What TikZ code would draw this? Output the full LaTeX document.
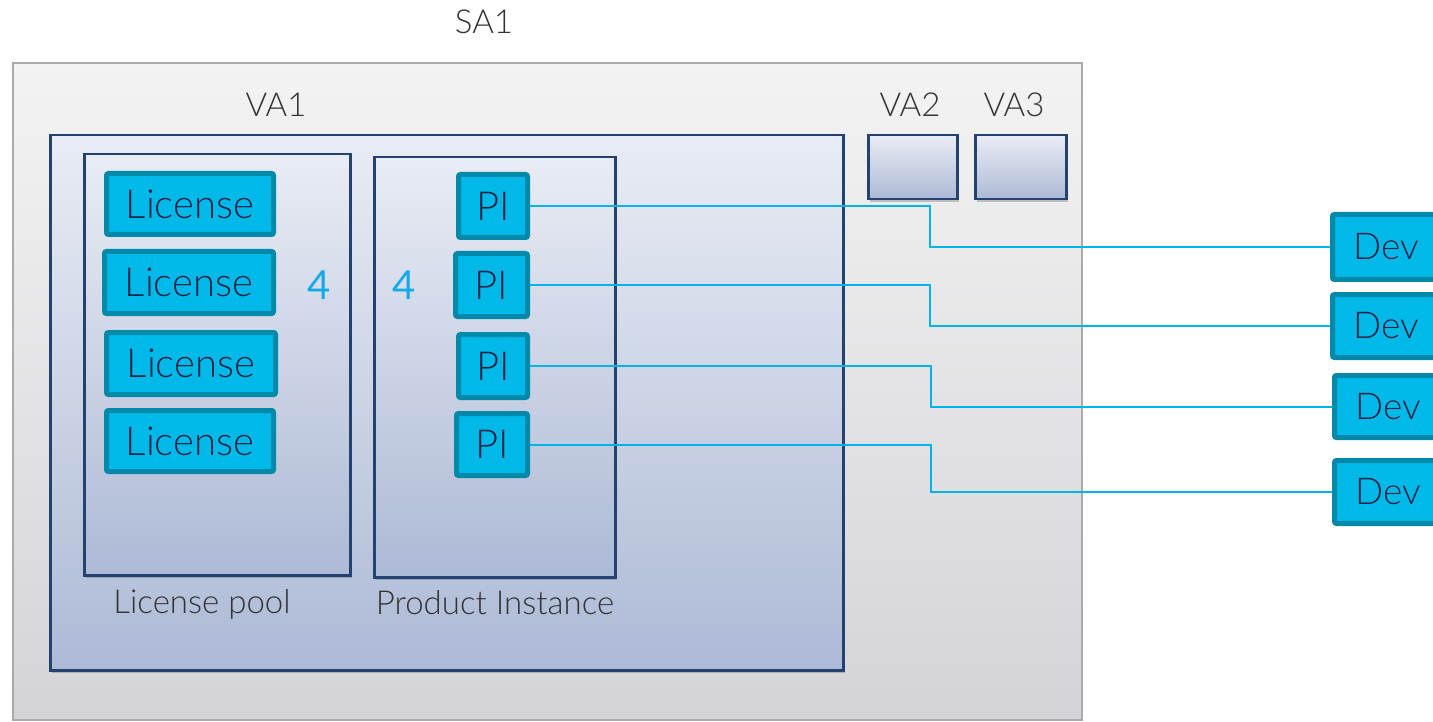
\documentclass[tikz,border=0pt]{standalone}
\usepackage{fontspec}
\setmainfont{Lato}[UprightFont=* Light]
\newfontfamily\countfont{Lato}
\usetikzlibrary{calc,shadows}
\definecolor{cyanfill}{HTML}{00B9E8}
\definecolor{cyanborder}{HTML}{0089A8}
\definecolor{boxtext}{HTML}{142446}
\definecolor{wire}{HTML}{00B4EA}
\definecolor{countcol}{HTML}{14A9E8}
\definecolor{vaborder}{HTML}{24426F}
\definecolor{vatop}{HTML}{E9ECF4}
\definecolor{vabot}{HTML}{ADBAD6}
\definecolor{satop}{HTML}{F3F3F3}
\definecolor{sabot}{HTML}{D4D4D8}
\definecolor{saborder}{HTML}{AAAAAA}
\definecolor{labeltext}{HTML}{333333}
\tikzset{
  sabox/.style={draw=saborder, line width=2pt, top color=satop, bottom color=sabot, inner sep=0pt, anchor=north west},
  vabox/.style={draw=vaborder, line width=2.5pt, top color=vatop, bottom color=vabot, inner sep=0pt, anchor=north west,
    drop shadow={shadow xshift=2pt, shadow yshift=-2.5pt, opacity=0.35, fill=black!60}},
  cbox/.style={draw=cyanborder, fill=cyanfill, line width=5pt, rounded corners=2pt, inner sep=0pt, text=boxtext,
    font=\fontsize{40}{44}\selectfont},
  devbox/.style={cbox, font=\fontsize{37}{41}\selectfont},
  lbl/.style={text=labeltext, inner sep=0pt, font=\fontsize{33}{37}\selectfont},
  count/.style={text=countcol, inner sep=0pt, font=\countfont\fontsize{40}{44}\selectfont},
  conn/.style={draw=wire, line width=2pt},
}
\begin{document}
\begin{tikzpicture}[x=1pt,y=-1pt]
\useasboundingbox (0,0) rectangle (1433,722);
\clip (0,0) rectangle (1433,722);
% containers
\node[sabox, minimum width=1069pt, minimum height=657pt] (sa1) at (12,62) {};
\node[vabox, minimum width=793pt, minimum height=535pt] (va1) at (49,134) {};
\node[vabox, minimum width=266pt, minimum height=421pt] (pool) at (83,153) {};
\node[vabox, minimum width=241pt, minimum height=420pt] (pibox) at (373,156) {};
\node[vabox, minimum width=89pt, minimum height=64pt] (va2) at (867,134) {};
\node[vabox, minimum width=91pt, minimum height=64pt] (va3) at (974,134) {};
% labels
\node[lbl] (sa1lbl) at (484,22) {SA1};
\node[lbl] (va1lbl) at (276,105) {VA1};
\node[lbl] (va2lbl) at (910,105) {VA2};
\node[lbl] (va3lbl) at (1014,105) {VA3};
\node[lbl] (poollbl) at (202,604) {License pool};
\node[lbl] (pilbl) at (495,603) {Product Instance};
\node[count] (cnt1) at (319,285) {4};
\node[count] (cnt2) at (404,285) {4};
% licenses
\node[cbox, minimum width=167pt, minimum height=61pt] (lic1) at (190,204) {License};
\node[cbox, minimum width=169pt, minimum height=62pt] (lic2) at (189,282.5) {License};
\node[cbox, minimum width=169pt, minimum height=62pt] (lic3) at (191,363.5) {License};
\node[cbox, minimum width=167pt, minimum height=61pt] (lic4) at (190,441) {License};
% product instances
\node[cbox, minimum width=69pt, minimum height=63pt] (pi1) at (493,206) {PI};
\node[cbox, minimum width=72pt, minimum height=63pt] (pi2) at (491.5,285) {PI};
\node[cbox, minimum width=69pt, minimum height=63pt] (pi3) at (493,366) {PI};
\node[cbox, minimum width=71pt, minimum height=62pt] (pi4) at (492,444.5) {PI};
% devices
\node[devbox, minimum width=107pt, minimum height=65pt] (dev1) at (1386,247) {Dev};
\node[devbox, minimum width=107pt, minimum height=63pt] (dev2) at (1386,326) {Dev};
\node[devbox, minimum width=107pt, minimum height=62pt] (dev3) at (1388,406.5) {Dev};
\node[devbox, minimum width=107pt, minimum height=63pt] (dev4) at (1388,492) {Dev};
% connectors
\foreach \i in {1,2,3,4}{
  \draw[conn] (pi\i.east) -| ($(pi\i.east)!.5!(dev\i.west)$) |- (dev\i.west);
}
\end{tikzpicture}
\end{document}
